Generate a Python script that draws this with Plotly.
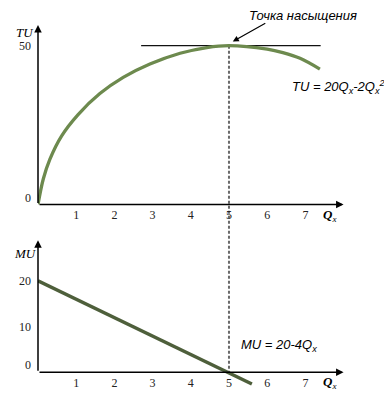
import plotly.graph_objects as go

# ---- data ----
TU_Q = [0, 0.14, 0.31, 0.62, 1.05, 1.62, 2.23, 2.93, 3.72, 4.42, 5.0, 6.0, 6.41, 6.86, 7.38]
TU_VAL = [0, 8.1, 14.2, 21.6, 28.3, 34.9, 40.0, 44.2, 47.6, 49.4, 50.0, 48.9, 47.8, 46.0, 42.6]
MU_Q = [0, 5.6]
MU_VAL = [20, -2.6]
TANGENT_Q = [2.7, 7.4]
TANGENT_TU = [50, 50]
SAT_Q = 5
SAT_TU = 50
X_TICKS = [1, 2, 3, 4, 5, 6, 7]
TU_TICK_LABELS = ["0", "50"]
MU_TICK_LABELS = ["0", "10", "20"]

# page has an 8px body margin; work in page pixels and convert
OFF = 8
W, H = 392 - 2 * OFF, 398 - 2 * OFF


def px(x):
    return (x - OFF) / W


def py(y):
    return 1 - (y - OFF) / H


X_RANGE = [0, 8.43]
TU_RANGE = [0, 58.1]
MU_RANGE = [-3.26, 29.8]
X_DOM = [px(38), px(360)]
TOP_DOM = [py(206), py(20)]
BOT_DOM = [py(390), py(238)]


def frac(v, rng, dom):
    return dom[0] + (v - rng[0]) / (rng[1] - rng[0]) * (dom[1] - dom[0])


mu_zero_paper = frac(0, MU_RANGE, BOT_DOM)

serif = "Liberation Serif"
sans = "Liberation Sans"

fig = go.Figure()
fig.add_trace(go.Scatter(x=TANGENT_Q, y=TANGENT_TU, mode="lines",
                         line=dict(color="#111111", width=1.2), xaxis="x", yaxis="y",
                         showlegend=False, hoverinfo="skip"))
fig.add_trace(go.Scatter(x=TU_Q, y=TU_VAL, mode="lines", line_shape="spline",
                         line=dict(color="#6d8a4e", width=3.3, smoothing=1.0),
                         xaxis="x", yaxis="y", showlegend=False))
fig.add_trace(go.Scatter(x=MU_Q, y=MU_VAL, mode="lines",
                         line=dict(color="#4e5f3b", width=3.5), xaxis="x2", yaxis="y2",
                         showlegend=False))

# dashed saturation line spanning both panels
fig.add_shape(type="line", xref="x", yref="paper",
              x0=SAT_Q, x1=SAT_Q,
              y0=mu_zero_paper - 0.004, y1=frac(SAT_TU, TU_RANGE, TOP_DOM),
              line=dict(color="#6a6a6a", width=2, dash="3px,2px"), layer="below")

axis_common = dict(showgrid=False, zeroline=False, showline=False, ticks="",
                   tickfont=dict(family=serif, size=12, color="#222"))

fig.update_layout(
    width=W, height=H, margin=dict(l=0, r=0, t=0, b=0),
    paper_bgcolor="white", plot_bgcolor="white",
    xaxis=dict(domain=X_DOM, range=X_RANGE, anchor="y", tickvals=X_TICKS,
               ticklabelstandoff=2, **axis_common),
    yaxis=dict(domain=TOP_DOM, range=TU_RANGE, anchor="x",
               tickvals=[2.2, SAT_TU], ticktext=TU_TICK_LABELS,
               ticklabelstandoff=6, **axis_common),
    xaxis2=dict(domain=X_DOM, range=X_RANGE, anchor="free", position=mu_zero_paper,
                tickvals=X_TICKS, ticklabelstandoff=2, **axis_common),
    yaxis2=dict(domain=BOT_DOM, range=MU_RANGE, anchor="x2",
                tickvals=[1.5, 10, 20], ticktext=MU_TICK_LABELS,
                ticklabelstandoff=6, **axis_common),
)

arrow = dict(showarrow=True, arrowhead=2, arrowsize=1, arrowwidth=1.5,
             arrowcolor="black", text="")
# axes with arrowheads
fig.add_annotation(x=8.0, y=0, ax=0, ay=0, xref="x", yref="y", axref="x", ayref="y", **arrow)
fig.add_annotation(x=0, y=56.5, ax=0, ay=0, xref="x", yref="y", axref="x", ayref="y", **arrow)
fig.add_annotation(x=8.0, y=0, ax=0, ay=0, xref="x2", yref="y2", axref="x2", ayref="y2", **arrow)
fig.add_annotation(x=0, y=28.9, ax=0, ay=0, xref="x2", yref="y2", axref="x2", ayref="y2", **arrow)

lbl_font = dict(family=serif, size=13, color="black")


def label(xp, yp, text, font):
    fig.add_annotation(x=px(xp), y=py(yp), xref="paper", yref="paper", text=text,
                       showarrow=False, font=font, xanchor="center", yanchor="middle")


label(25, 33, "<i>TU</i>", lbl_font)
label(25, 255, "<i>MU</i>", lbl_font)
label(329, 217, "<i><b>Q</b><sub>x</sub></i>", lbl_font)
label(329, 385, "<i><b>Q</b><sub>x</sub></i>", lbl_font)

# saturation point label
txt_font = dict(family=sans, size=13, color="black")
label(303, 16, "<i>Точка насыщения</i>", txt_font)
fig.add_annotation(x=SAT_Q + 0.1, y=SAT_TU + 1.3, xref="x", yref="y", ax=34, ay=-19,
                   showarrow=True, arrowhead=2, arrowsize=1, arrowwidth=1.2,
                   arrowcolor="black", text="")

label(338, 88, "<i>TU = 20Q<sub>x</sub>-2Q<sub>x</sub><sup>2</sup></i>", txt_font)
label(279, 348, "<i>MU = 20-4Q<sub>x</sub></i>", txt_font)

fig.write_html("out.html")
